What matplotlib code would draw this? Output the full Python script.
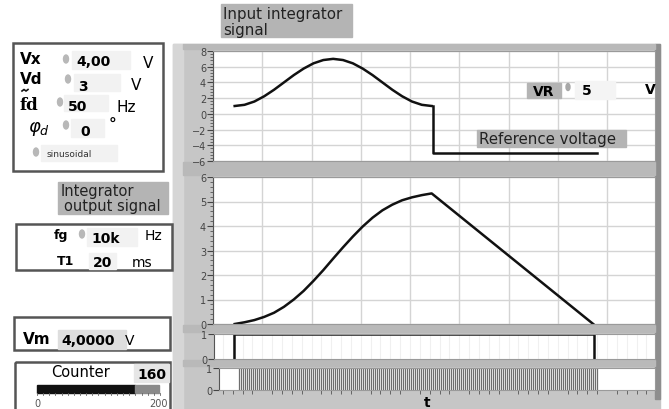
import numpy as np
import matplotlib.pyplot as plt
from matplotlib.patches import Rectangle, Ellipse
from matplotlib.ticker import MultipleLocator, AutoMinorLocator

W, H = 669, 410

# ---- data (time in ms) ----
t_in = [2.2, 3.2, 4.2, 5.2, 6.2, 7.2, 8.2, 9.2, 10.2, 11.2, 12.2,
        13.2, 14.2, 15.2, 16.2, 17.2, 18.2, 19.2, 20.2, 21.2, 22.2]
v_in = [1.00, 1.15, 1.57, 2.24, 3.07, 4.00, 4.93, 5.76, 6.43, 6.85, 7.00,
        6.85, 6.43, 5.76, 4.93, 4.00, 3.07, 2.24, 1.57, 1.15, 1.00]
t_ref = [22.3, 22.3, 39.0]
v_ref = [1.00, -5.0, -5.0]

t_out = [2.2, 3.2, 4.2, 5.2, 6.2, 7.2, 8.2, 9.2, 10.2, 11.2, 12.2,
         13.2, 14.2, 15.2, 16.2, 17.2, 18.2, 19.2, 20.2, 21.2, 22.2, 38.6]
v_out = [0.00, 0.07, 0.16, 0.29, 0.46, 0.70, 1.00, 1.35, 1.76, 2.20, 2.67,
         3.13, 3.57, 3.98, 4.34, 4.64, 4.87, 5.05, 5.17, 5.26, 5.33, 0.00]

t_gate = [2.1, 2.1, 38.7, 38.7]
v_gate = [0, 1, 1, 0]

pulse_start, pulse_end, n_pulses = 2.6, 39.0, 180

PX_MS = 9.85   # screen pixels per ms


def px_axes(fig, x0, y0, x1, y1, **kw):
    return fig.add_axes([x0 / W, 1 - y1 / H, (x1 - x0) / W, (y1 - y0) / H], **kw)


def style_plot(ax, x0):
    ax.set_xlim(0 + (x0 - 213) / PX_MS, (655 - 213) / PX_MS)
    for s in ax.spines.values():
        s.set_color('#9a9a9a')
    ax.spines['left'].set_color('#555555')
    ax.tick_params(axis='y', labelsize=7, colors='#444444', length=4, width=0.8, pad=1)
    ax.tick_params(axis='y', which='minor', length=2, width=0.6, colors='#555555')
    ax.tick_params(axis='x', which='both', bottom=False, labelbottom=False)


fig = plt.figure(figsize=(W / 100, H / 100), dpi=100)
fig.patch.set_facecolor('white')

bg = fig.add_axes([0, 0, 1, 1], zorder=0)
bg.set_xlim(0, W)
bg.set_ylim(H, 0)
bg.axis('off')

fg = fig.add_axes([0, 0, 1, 1], zorder=10)
fg.set_xlim(0, W)
fg.set_ylim(H, 0)
fg.axis('off')
fg.patch.set_alpha(0)

# gray graph panel
bg.add_patch(Rectangle((173, 45), 487, 365, color='#c6c6c6'))
bg.add_patch(Rectangle((173, 45), 10, 365, color='#d6d6d6'))
bg.add_patch(Rectangle((655, 45), 5, 355, color='#8e8e8e'))
for y0, y1 in [(45, 50), (163, 176), (326, 333), (361, 367)]:
    bg.add_patch(Rectangle((183, y0), 472, y1 - y0, color='#b9b9b9'))

# ---- top: input integrator signal ----
ax1 = px_axes(fig, 213, 52, 655, 162, zorder=5)
style_plot(ax1, 213)
ax1.set_ylim(-6, 8)
ax1.yaxis.set_major_locator(MultipleLocator(2))
ax1.yaxis.set_minor_locator(AutoMinorLocator(5))
ax1.xaxis.set_major_locator(MultipleLocator(5))
ax1.grid(True, color='#d4d4d4', lw=1)
ax1.plot(t_in, v_in, color='#111111', lw=1.8)
ax1.plot(t_ref, v_ref, color='#111111', lw=1.8)

# ---- integrator output ----
ax2 = px_axes(fig, 213, 178, 655, 325, zorder=5)
style_plot(ax2, 213)
ax2.set_ylim(0, 6)
ax2.yaxis.set_major_locator(MultipleLocator(1))
ax2.yaxis.set_minor_locator(AutoMinorLocator(5))
ax2.xaxis.set_major_locator(MultipleLocator(5))
ax2.grid(True, color='#d4d4d4', lw=1)
ax2.plot(t_out, v_out, color='#111111', lw=1.8)

# ---- gate ----
ax3 = px_axes(fig, 214, 335, 655, 360, zorder=5)
style_plot(ax3, 214)
ax3.set_ylim(0, 1)
ax3.set_yticks([0, 1])
ax3.xaxis.set_major_locator(MultipleLocator(1))
ax3.grid(True, axis='x', color='#f0f0f0', lw=0.8)
ax3.plot(t_gate, v_gate, color='#111111', lw=1.8)

# ---- clock pulses ----
ax4 = px_axes(fig, 219, 369, 655, 391, zorder=5)
style_plot(ax4, 219)
ax4.set_ylim(0, 1)
ax4.set_yticks([0, 1])
ax4.vlines(np.linspace(pulse_start, pulse_end, n_pulses), 0, 1,
           color='#6e6e6e', lw=0.9)
ax4.xaxis.set_minor_locator(MultipleLocator(1))
ax4.tick_params(axis='x', which='minor', bottom=True, length=3, color='#555555')
fg.text(427, 403, 't', fontsize=10, fontweight='bold', ha='center', va='center')

# ---- labels on the panel ----
fg.add_patch(Rectangle((221, 5), 131, 33, color='#b4b4b4'))
fg.text(223, 14, 'Input integrator', fontsize=10.8, va='center', color='#222222')
fg.text(223, 30, 'signal', fontsize=10.8, va='center', color='#222222')

fg.add_patch(Rectangle((527, 84), 34, 15, color='#b4b4b4'))
fg.text(544, 91.5, 'VR', fontsize=10, fontweight='bold', ha='center', va='center')
fg.add_patch(Ellipse((568, 88), 4, 7, color='#a8a8a8'))
fg.add_patch(Rectangle((575, 82), 40, 18, color='#f4f4f4'))
fg.text(582, 91, '5', fontsize=10, fontweight='bold', va='center')
fg.text(645, 90, 'V', fontsize=10, fontweight='bold', va='center')

fg.add_patch(Rectangle((477, 131), 149, 17, color='#b4b4b4'))
fg.text(479, 139.5, 'Reference voltage', fontsize=10.8, va='center', color='#222222')


def spinner(x, y):
    fg.add_patch(Ellipse((x, y), 5, 8, color='#b8b8b8'))


def field(x0, y0, x1, y1, c='#f2f2f2'):
    fg.add_patch(Rectangle((x0, y0), x1 - x0, y1 - y0, color=c))


def frame(x0, y0, x1, y1):
    fg.add_patch(Rectangle((x0, y0), x1 - x0, y1 - y0, fill=False,
                           ec='#555555', lw=1.8))


# ---- left controls ----
frame(13, 44, 163, 172)
fg.text(20, 60, 'Vx', fontsize=11, fontweight='bold', va='center')
spinner(66, 60)
field(72, 52, 130, 70)
fg.text(76, 62, '4,00', fontsize=10, fontweight='bold', va='center')
fg.text(143, 63, 'V', fontsize=11, va='center')

fg.text(20, 79, 'Vd', fontsize=11, fontweight='bold', va='center')
fg.plot([22, 24, 26, 28], [92, 90.5, 92, 90.5], color='#111111', lw=1.2)
spinner(68, 80)
field(74, 75, 120, 92)
fg.text(78, 87, '3', fontsize=10, fontweight='bold', va='center')
fg.text(131, 85, 'V', fontsize=11, va='center')

fg.text(19, 106, 'fd', fontsize=12, fontweight='bold', va='center', family='DejaVu Serif')
spinner(60, 103)
field(64, 96, 108, 112)
fg.text(68, 107, '50', fontsize=10, fontweight='bold', va='center')
fg.text(117, 107, 'Hz', fontsize=11, va='center')

fg.text(28, 129, r'$\varphi_d$', fontsize=13, va='center')
spinner(66, 126)
field(71, 120, 104, 138)
fg.text(80, 132, '0', fontsize=10, fontweight='bold', va='center')
fg.text(109, 125, '°', fontsize=11, fontweight='bold', va='center')

spinner(36, 153)
field(41, 146, 117, 162)
fg.text(47, 155, 'sinusoidal', fontsize=6.5, va='center', color='#333333')

fg.add_patch(Rectangle((58, 183), 110, 32, color='#b4b4b4'))
fg.text(61, 192, 'Integrator', fontsize=10.5, va='center', color='#222222')
fg.text(64, 207, 'output signal', fontsize=10.5, va='center', color='#222222')

frame(16, 225, 172, 271)
fg.text(54, 236, 'fg', fontsize=9, fontweight='bold', va='center')
spinner(82, 235)
field(87, 229, 137, 247)
fg.text(91, 239, '10k', fontsize=10, fontweight='bold', va='center')
fg.text(145, 236, 'Hz', fontsize=10, va='center')
fg.text(57, 262, 'T1', fontsize=9, fontweight='bold', va='center')
field(89, 254, 116, 270)
fg.text(93, 263, '20', fontsize=10, fontweight='bold', va='center')
fg.text(132, 263, 'ms', fontsize=10, va='center')

frame(14, 318, 170, 351)
fg.text(23, 340, 'Vm', fontsize=11, fontweight='bold', va='center')
field(58, 331, 126, 350, c='#dedede')
fg.text(61, 341, '4,0000', fontsize=10, fontweight='bold', va='center')
fg.text(125, 341, 'V', fontsize=10, va='center')

frame(15, 363, 170, 412)
fg.text(80, 373, 'Counter', fontsize=10.5, ha='center', va='center')
field(134, 365, 169, 383, c='#e6e6e6')
fg.text(152, 375, '160', fontsize=10, fontweight='bold', ha='center', va='center')
fg.add_patch(Rectangle((37, 386), 98, 8, color='#111111'))
fg.add_patch(Rectangle((135, 386), 24, 8, color='#8a8a8a'))
for xt in np.arange(37, 160.1, 6.15):
    fg.plot([xt, xt], [394, 396], color='#666666', lw=0.6)
fg.text(37, 404, '0', fontsize=7, ha='center', va='center', color='#555555')
fg.text(159, 404, '200', fontsize=7, ha='center', va='center', color='#555555')

fig.savefig('out.png', dpi=100)
